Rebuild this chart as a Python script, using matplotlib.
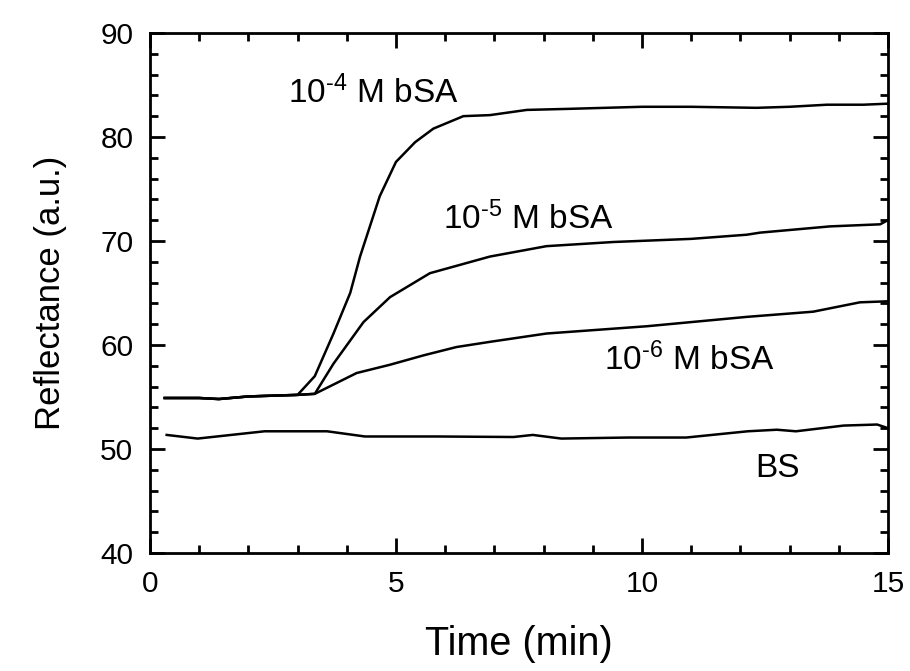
import numpy as np
import matplotlib
matplotlib.use("Agg")
import matplotlib.pyplot as plt
from matplotlib.ticker import MultipleLocator

plt.rcParams['font.family'] = ['Liberation Sans', 'DejaVu Sans']
plt.rcParams['mathtext.fontset'] = 'custom'
plt.rcParams['mathtext.rm'] = 'Liberation Sans'
plt.rcParams['mathtext.it'] = 'Liberation Sans'
plt.rcParams['mathtext.default'] = 'regular'

# 농도별 반사율 변화 (min, a.u.)
t_1e4 = [0.3, 1.0, 1.4, 2.0, 3.0, 3.35, 3.73, 4.07, 4.27, 4.47, 4.67, 5.0, 5.39, 5.76,
         6.37, 6.91, 7.66, 8.5, 10.0, 11.0, 12.33, 13.0, 13.76, 14.5, 15.0]
r_1e4 = [54.9, 54.9, 54.8, 55.05, 55.2, 57.0, 61.1, 65.0, 68.5, 71.4, 74.3, 77.6, 79.5, 80.8,
         82.0, 82.1, 82.6, 82.7, 82.9, 82.9, 82.8, 82.9, 83.1, 83.1, 83.2]

t_1e5 = [0.3, 1.0, 1.4, 2.0, 3.0, 3.35, 3.73, 4.34, 4.88, 5.69, 6.91, 8.06, 9.42,
         11.0, 12.13, 12.4, 13.82, 14.84, 15.0]
r_1e5 = [54.9, 54.9, 54.8, 55.05, 55.2, 55.3, 58.2, 62.2, 64.6, 66.9, 68.5, 69.5, 69.9,
         70.2, 70.6, 70.8, 71.4, 71.6, 72.0]

t_1e6 = [0.3, 1.0, 1.4, 2.0, 3.0, 3.35, 4.2, 4.88, 5.56, 6.23, 6.91, 8.06, 10.1,
         12.13, 13.48, 14.43, 15.0]
r_1e6 = [54.9, 54.9, 54.8, 55.05, 55.2, 55.3, 57.3, 58.1, 59.0, 59.8, 60.3, 61.1, 61.8,
         62.7, 63.2, 64.1, 64.2]

t_bs = [0.34, 0.97, 2.33, 3.6, 4.37, 5.83, 7.39, 7.78, 8.36, 9.73, 10.9, 12.15, 12.74,
        13.13, 14.1, 14.78, 15.0]
r_bs = [51.35, 51.0, 51.7, 51.7, 51.2, 51.2, 51.15, 51.35, 51.0, 51.1, 51.1, 51.7, 51.85,
        51.7, 52.25, 52.35, 52.0]

# 위첨자 지수는 짧은 하이픈으로
labels = ['10$^{\u2010' + '4}$ M bSA', '10$^{\u2010' + '5}$ M bSA',
          '10$^{\u2010' + '6}$ M bSA', 'BS']

fig = plt.figure(figsize=(9.1, 6.71), dpi=100)
ax = fig.add_axes([0.1648, 0.1759, 0.811, 0.775])

for t, r in [(t_1e4, r_1e4), (t_1e5, r_1e5), (t_1e6, r_1e6), (t_bs, r_bs)]:
    ax.plot(t, r, color='black', lw=1.8)

ax.text(2.8, 83.3, labels[0], fontsize=24)
ax.text(5.95, 71.1, labels[1], fontsize=24)
ax.text(9.23, 57.6, labels[2], fontsize=24)
ax.text(12.3, 47.3, labels[3], fontsize=24)

ax.set_xlim(0, 15)
ax.set_ylim(40, 90)
ax.xaxis.set_major_locator(MultipleLocator(5))
ax.xaxis.set_minor_locator(MultipleLocator(1))
ax.yaxis.set_major_locator(MultipleLocator(10))
ax.yaxis.set_minor_locator(MultipleLocator(2))
ax.tick_params(which='both', direction='in', top=True, right=True, width=2, labelsize=21.5)
ax.tick_params(which='major', length=11, pad=12)
ax.tick_params(which='minor', length=6)
for s in ax.spines.values():
    s.set_linewidth(2)

ax.set_xlabel('Time (min)', fontsize=28.5, labelpad=20)
ax.set_ylabel('Reflectance (a.u.)', fontsize=25, labelpad=24)

fig.savefig('out.png', dpi=100)
